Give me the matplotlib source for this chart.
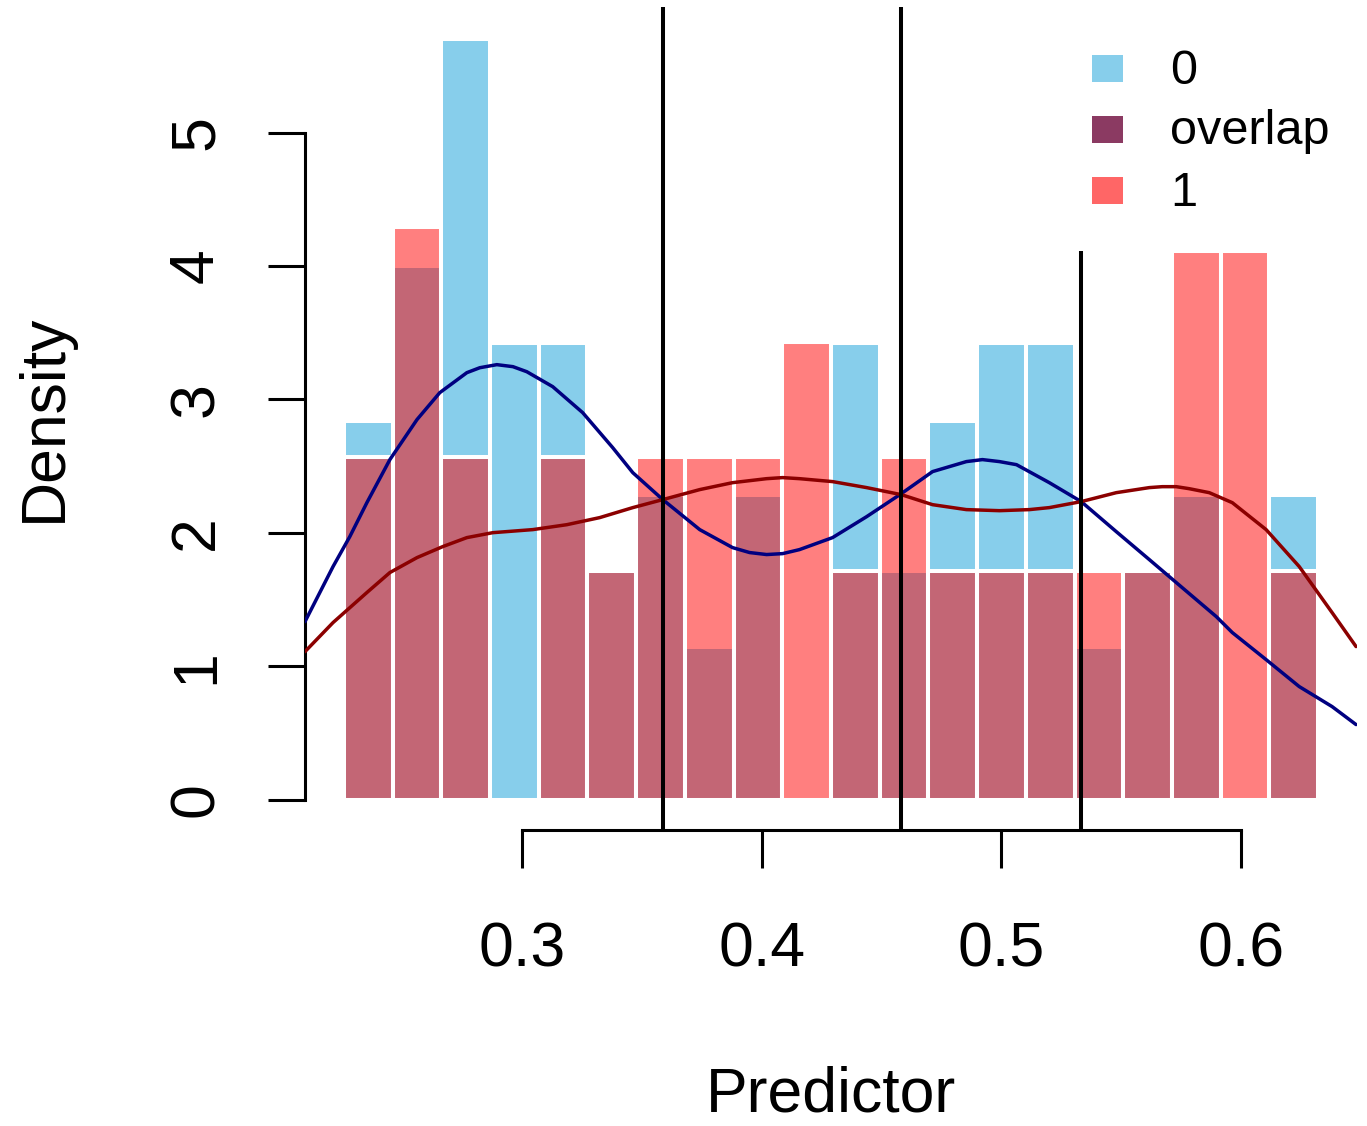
from __future__ import annotations

import matplotlib

matplotlib.use("Agg")

import matplotlib.pyplot as plt
import numpy as np
from matplotlib.patches import Rectangle

plt.rcParams["font.family"] = ["Liberation Sans", "DejaVu Sans"]

# histogram bins (20 equal-width bins over the predictor range)
BIN_START = 0.2258
BIN_END = 0.6321
N_BINS = 20

# density per bin
density_0 = [2.84, 4.00, 5.70, 3.42, 3.42, 1.71, 2.28, 1.14, 2.28, 0.0,
             3.42, 1.71, 2.84, 3.42, 3.42, 1.14, 1.71, 2.28, 0.0, 2.28]
density_1 = [2.57, 4.29, 2.57, 0.0, 2.57, 1.71, 2.57, 2.57, 2.57, 3.43,
             1.71, 2.57, 1.71, 1.71, 1.71, 1.71, 1.71, 4.11, 4.11, 1.71]

# kernel density curves
kde0_x = [0.2096, 0.2213, 0.2283, 0.2354, 0.2450, 0.2563, 0.2658, 0.2771, 0.2825,
          0.2896, 0.2963, 0.3021, 0.3129, 0.3254, 0.3379, 0.3463, 0.3588, 0.3742,
          0.3879, 0.3950, 0.4021, 0.4088, 0.4158, 0.4296, 0.4438, 0.4583, 0.4713,
          0.4854, 0.4921, 0.4992, 0.5063, 0.5200, 0.5333, 0.5479, 0.5617, 0.5754,
          0.5896, 0.5963, 0.6104, 0.6242, 0.6379, 0.6479]
kde0_y = [1.334, 1.747, 1.972, 2.226, 2.549, 2.849, 3.051, 3.201, 3.238,
          3.261, 3.246, 3.208, 3.096, 2.901, 2.639, 2.451, 2.249, 2.024,
          1.889, 1.852, 1.837, 1.844, 1.874, 1.964, 2.121, 2.294, 2.459,
          2.534, 2.549, 2.534, 2.511, 2.376, 2.234, 2.009, 1.799, 1.589,
          1.372, 1.252, 1.049, 0.847, 0.697, 0.562]
kde1_x = [0.2096, 0.2213, 0.2354, 0.2450, 0.2563, 0.2671, 0.2771, 0.2879, 0.3046,
          0.3188, 0.3325, 0.3463, 0.3588, 0.3742, 0.3879, 0.4021, 0.4088, 0.4158,
          0.4296, 0.4438, 0.4583, 0.4713, 0.4854, 0.4992, 0.5117, 0.5200, 0.5333,
          0.5479, 0.5617, 0.5671, 0.5729, 0.5783, 0.5867, 0.5963, 0.6104, 0.6242,
          0.6379, 0.6479]
kde1_y = [1.109, 1.327, 1.552, 1.702, 1.814, 1.897, 1.964, 2.001, 2.024,
          2.061, 2.114, 2.189, 2.249, 2.324, 2.376, 2.406, 2.414, 2.406,
          2.384, 2.339, 2.286, 2.211, 2.174, 2.166, 2.174, 2.189, 2.234,
          2.301, 2.339, 2.346, 2.346, 2.331, 2.301, 2.226, 2.024, 1.747,
          1.402, 1.147]

# cut points (vertical lines); None = full height
cut_x = [0.3588, 0.4583, 0.5333]
cut_top = [None, None, 4.11]

x_ticks = [0.3, 0.4, 0.5, 0.6]
y_ticks = [0, 1, 2, 3, 4, 5]

legend_labels = ["0", "overlap", "1"]
legend_colors = ["#87CEEB", "#8B3A62", "#FF6666"]

W, H = 1367, 1126


def _fx(px: float) -> float:
    return px / W


def _fy(py: float) -> float:
    return 1.0 - py / H


def main() -> None:
    fig = plt.figure(figsize=(W / 100, H / 100), dpi=100)
    ax = fig.add_axes([_fx(305), _fy(830), _fx(1357) - _fx(305), _fy(7) - _fy(830)])

    edges = np.linspace(BIN_START, BIN_END, N_BINS + 1)
    width = edges[1] - edges[0]
    ax.bar(edges[:-1], density_0, width=width, align="edge",
           color="#87CEEB", edgecolor="white", linewidth=2.9, zorder=1)
    ax.bar(edges[:-1], density_1, width=width, align="edge",
           color=(1.0, 0.0, 0.0, 0.5), edgecolor="white", linewidth=2.9, zorder=2)

    line_kw = dict(linewidth=2.5, solid_joinstyle="round", solid_capstyle="round", zorder=3)
    ax.plot(kde0_x, kde0_y, color="#000080", **line_kw)
    ax.plot(kde1_x, kde1_y, color="#8B0000", **line_kw)

    ymin, ymax = -0.2286, 5.943
    for x, top in zip(cut_x, cut_top):
        ax.vlines(x, ymin, ymax if top is None else top, color="black", linewidth=2.9, zorder=4)

    ax.set_xlim(0.2096, 0.6483)
    ax.set_ylim(ymin, ymax)

    for side in ("top", "right"):
        ax.spines[side].set_visible(False)
    ax.spines["left"].set_bounds(0, 5)
    ax.spines["bottom"].set_bounds(0.3, 0.6)
    for side in ("left", "bottom"):
        ax.spines[side].set_linewidth(2.2)

    ax.set_xticks(x_ticks)
    ax.set_xticklabels([f"{t:.1f}" for t in x_ticks], fontsize=45)
    ax.set_yticks(y_ticks)
    ax.set_yticklabels([str(t) for t in y_ticks], fontsize=45, rotation=90, va="center")
    ax.tick_params(axis="x", direction="out", length=27, width=2.2, pad=38)
    ax.tick_params(axis="y", direction="out", length=27, width=2.2, pad=30)

    fig.text(_fx(831), _fy(1112), "Predictor", fontsize=45, ha="center", va="baseline")
    fig.text(_fx(44), _fy(418), "Density", fontsize=45, rotation=90, ha="center", va="center")

    for i, (label, color) in enumerate(zip(legend_labels, legend_colors)):
        top = 55 + 61 * i
        fig.add_artist(Rectangle((_fx(1092), _fy(top + 27)), _fx(31), 27 / H,
                                 transform=fig.transFigure, facecolor=color, edgecolor="none"))
        fig.text(_fx(1170), _fy(top + 16), label, fontsize=35, ha="left", va="center")

    fig.savefig("out.png", dpi=100)
    plt.close(fig)


if __name__ == "__main__":
    main()
